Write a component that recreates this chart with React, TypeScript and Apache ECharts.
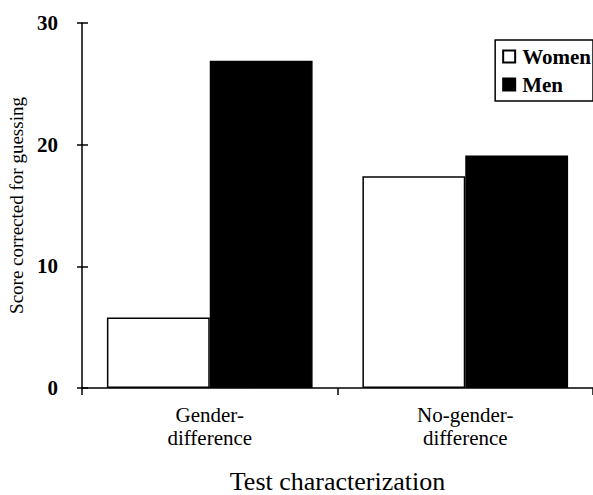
import React, { useEffect, useRef } from "react";
import * as echarts from "echarts";

const categories = ["Gender-\ndifference", "No-gender-\ndifference"];
const women = [5.8, 17.4];
const men = [26.9, 19.1];
const yTicks = { min: 0, max: 30, interval: 10 };

const FONT = "Liberation Serif";

export default function App() {
  const ref = useRef<HTMLDivElement>(null);
  useEffect(() => {
    if (!ref.current) return;
    const chart = echarts.init(ref.current, undefined, { renderer: "svg" });
    chart.setOption({
      animation: false,
      backgroundColor: "#ffffff",
      textStyle: { fontFamily: FONT, color: "#000" },
      grid: { left: 82, right: 0, top: 23, bottom: 107, containLabel: false, outerBoundsMode: "none" },
      legend: {
        data: ["Women", "Men"],
        orient: "vertical",
        right: 0,
        top: 40,
        itemWidth: 12,
        itemHeight: 12,
        itemGap: 7,
        padding: [6, 2, 6, 7],
        borderColor: "#000",
        borderWidth: 1.5,
        icon: "rect",
        textStyle: { fontFamily: FONT, fontSize: 21, fontWeight: "bold", color: "#000", padding: [0, 0, 0, 2] },
      },
      xAxis: {
        type: "category",
        data: categories,
        name: "Test characterization",
        nameLocation: "middle",
        nameGap: 80,
        nameTextStyle: { fontFamily: FONT, fontSize: 26, color: "#000" },
        axisLine: { lineStyle: { color: "#000", width: 1.5 } },
        axisTick: { show: true, length: 7, lineStyle: { color: "#000", width: 1.5 } },
        axisLabel: { fontFamily: FONT, fontSize: 21, color: "#000", margin: 15, lineHeight: 23 },
      },
      yAxis: [
        {
          type: "value",
          min: yTicks.min,
          max: yTicks.max,
          interval: yTicks.interval,
          name: "Score corrected for guessing",
          nameLocation: "middle",
          nameGap: 54,
          nameRotate: 90,
          nameTextStyle: { fontFamily: FONT, fontSize: 19, color: "#000" },
          axisLine: { show: true, lineStyle: { color: "#000", width: 1.5 } },
          axisTick: { show: true, length: 5, lineStyle: { color: "#000", width: 1.5 } },
          axisLabel: { fontFamily: FONT, fontSize: 21, fontWeight: "bold", color: "#000", margin: 24 },
          splitLine: { show: false },
        },
        {
          type: "value",
          position: "left",
          min: yTicks.min,
          max: yTicks.max,
          interval: yTicks.interval,
          axisLine: { show: false },
          axisTick: { show: true, inside: true, length: 6, lineStyle: { color: "#000", width: 1.5 } },
          axisLabel: { show: false },
          splitLine: { show: false },
        },
      ],
      series: [
        {
          name: "Women",
          type: "bar",
          data: women,
          barGap: "0%",
          barCategoryGap: "19.5%",
          itemStyle: { color: "#ffffff", borderColor: "#000", borderWidth: 1.5 },
        },
        {
          name: "Men",
          type: "bar",
          data: men,
          barGap: "0%",
          barCategoryGap: "19.5%",
          itemStyle: { color: "#000000", borderColor: "#000", borderWidth: 1.5 },
        },
      ],
    });
    return () => chart.dispose();
  }, []);
  return <div ref={ref} style={{ width: 593, height: 495, position: "fixed", left: 0, top: 0 }} />;
}
